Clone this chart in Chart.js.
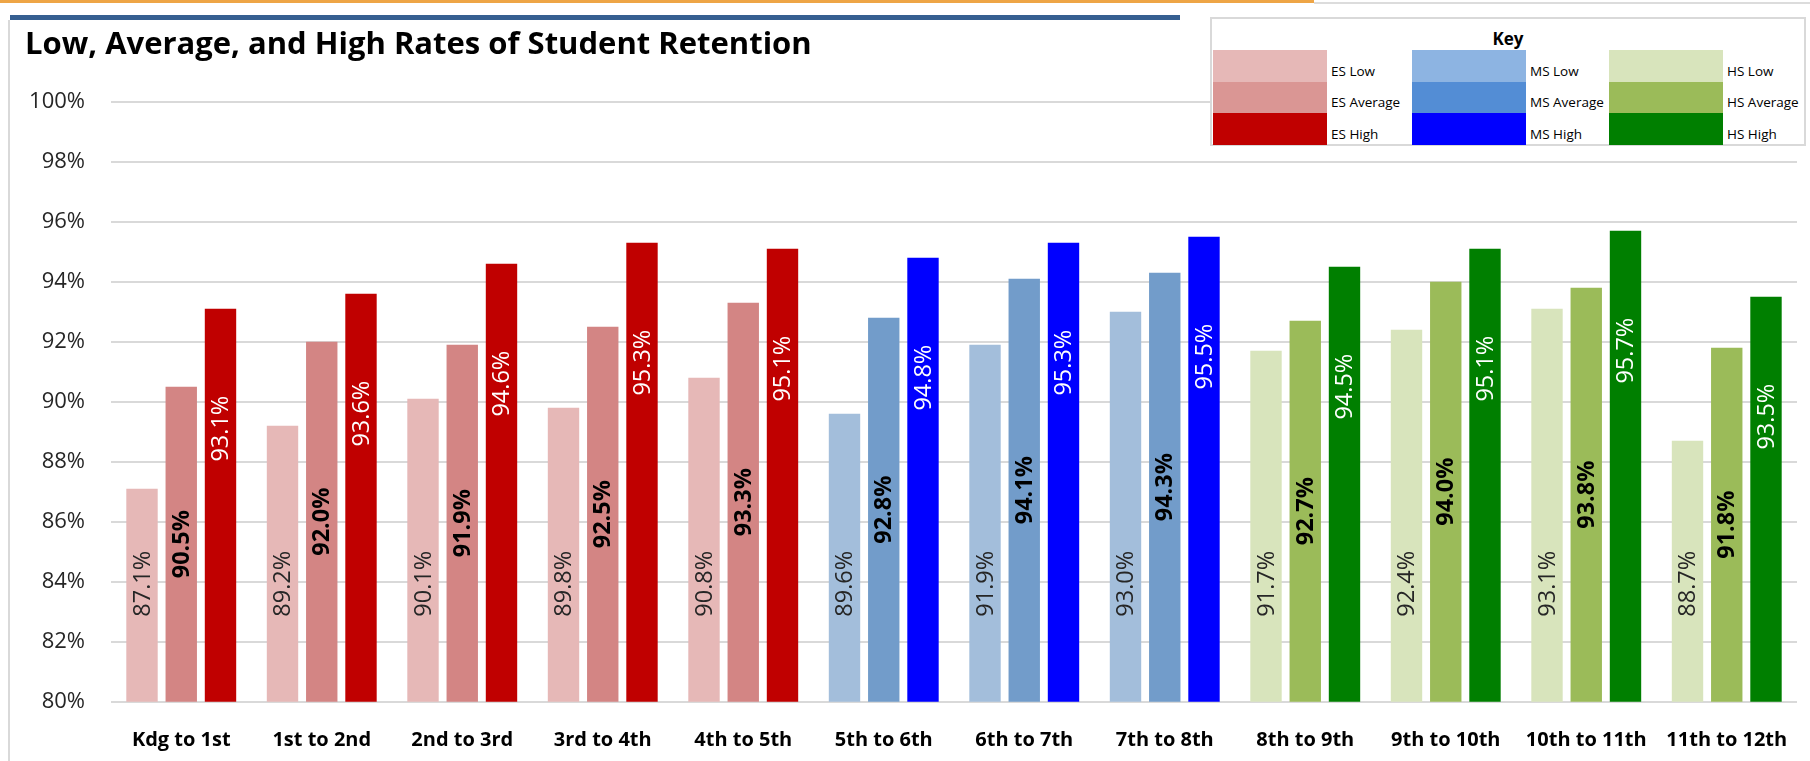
<!DOCTYPE html>
<html>
<head>
<meta charset="utf-8">
<title>Low, Average, and High Rates of Student Retention</title>
<script src="https://cdn.jsdelivr.net/npm/chart.js@4.4.1/dist/chart.umd.min.js"></script>
<style>
  body { margin: 0; background: #fff; }
  #quadro { position: relative; width: 1810px; height: 761px; overflow: hidden; font-family: 'Open Sans', sans-serif; }
  #grafico { position: absolute; left: 0; top: 0; }
  .faixa { position: absolute; }
  #chave { position: absolute; left: 1210px; top: 17px; width: 596px; height: 129px; box-sizing: border-box; border: 2px solid #d9d9d9; background: #fff; }
  #chaveTitulo { position: absolute; left: 1210px; top: 28px; width: 596px; text-align: center; font-weight: bold; font-size: 17px; line-height: 22px; color: #000; }
  .amostra { position: absolute; width: 114px; height: 32px; }
  .rotulo { position: absolute; font-size: 13.5px; line-height: 20px; color: #000; white-space: nowrap; }
</style>
</head>
<body>
<div id="quadro">
  <canvas id="grafico" width="1810" height="761"></canvas>
  <div class="faixa" style="left:0;top:0;width:1314px;height:3px;background:#eea546"></div>
  <div class="faixa" style="left:1314px;top:2px;width:496px;height:2px;background:#dcdcdc"></div>
  <div class="faixa" style="left:10px;top:15px;width:1170px;height:5px;background:#365f91"></div>
  <div class="faixa" style="left:8px;top:20px;width:2px;height:741px;background:#d9d9d9"></div>
  <div id="chave"></div>
  <div id="chaveTitulo">Key</div>
</div>
<script>
// Grade transitions on the x axis
const transitions = ['Kdg to 1st', '1st to 2nd', '2nd to 3rd', '3rd to 4th', '4th to 5th',
  '5th to 6th', '6th to 7th', '7th to 8th', '8th to 9th', '9th to 10th', '10th to 11th', '11th to 12th'];
const schoolLevel = ['ES', 'ES', 'ES', 'ES', 'ES', 'MS', 'MS', 'MS', 'HS', 'HS', 'HS', 'HS'];

// Retention rates (%)
const lowRates = [87.1, 89.2, 90.1, 89.8, 90.8, 89.6, 91.9, 93.0, 91.7, 92.4, 93.1, 88.7];
const averageRates = [90.5, 92.0, 91.9, 92.5, 93.3, 92.8, 94.1, 94.3, 92.7, 94.0, 93.8, 91.8];
const highRates = [93.1, 93.6, 94.6, 95.3, 95.1, 94.8, 95.3, 95.5, 94.5, 95.1, 95.7, 93.5];

// Key entries
const keyLevels = ['ES', 'MS', 'HS'];
const keyKinds = ['Low', 'Average', 'High'];

// Bar colours per level
const barColors = {
  ES: { Low: '#e6b8b7', Average: '#d38584', High: '#c00000' },
  MS: { Low: '#a3bedb', Average: '#729cca', High: '#0000ff' },
  HS: { Low: '#d8e4bc', Average: '#9bbb59', High: '#007f00' }
};
// Key swatches are a bit different from the bars
const keyColors = {
  ES: { Low: '#e6b8b7', Average: '#da9694', High: '#c00000' },
  MS: { Low: '#8db4e2', Average: '#538dd5', High: '#0000ff' },
  HS: { Low: '#d8e4bc', Average: '#9bbb59', High: '#007f00' }
};

const fonte = "'Open Sans', sans-serif";

/**
 * Builds the key box (3 columns x 3 rows).
 */
function montarChave() {
  const quadro = document.getElementById('quadro');
  const colunas = [1213, 1412, 1609];
  const linhas = [50, 81.5, 113];
  keyLevels.forEach((nivel, c) => {
    keyKinds.forEach((tipo, r) => {
      const amostra = document.createElement('div');
      amostra.className = 'amostra';
      amostra.style.left = colunas[c] + 'px';
      amostra.style.top = linhas[r] + 'px';
      amostra.style.background = keyColors[nivel][tipo];
      quadro.appendChild(amostra);

      const rotulo = document.createElement('div');
      rotulo.className = 'rotulo';
      rotulo.style.left = (colunas[c] + 118) + 'px';
      rotulo.style.top = (linhas[r] + 10.5) + 'px';
      rotulo.textContent = `${nivel} ${tipo}`;
      quadro.appendChild(rotulo);
    });
  });
}

/**
 * Rotated value labels inside the bars.
 */
const rotuloBarras = {
  id: 'rotuloBarras',
  afterDatasetsDraw(chart) {
    const { ctx, chartArea } = chart;
    chart.data.datasets.forEach((ds, i) => {
      const meta = chart.getDatasetMeta(i);
      meta.data.forEach((bar, j) => {
        const texto = ds.data[j].toFixed(1) + '%';
        // base of the bar sits at value 0, so clamp to the axis
        const base = Math.min(bar.base, chartArea.bottom);
        ctx.save();
        ctx.font = `${ds.labelWeight} 23.5px ${fonte}`;
        ctx.fillStyle = ds.labelColor;
        ctx.textBaseline = 'middle';
        if (ds.labelPos === 'base') {
          ctx.translate(bar.x, base);
          ctx.rotate(-Math.PI / 2);
          ctx.textAlign = 'left';
          ctx.fillText(texto, 85, 1);
        } else if (ds.labelPos === 'end') {
          ctx.translate(bar.x, bar.y);
          ctx.rotate(-Math.PI / 2);
          ctx.textAlign = 'right';
          ctx.fillText(texto, -87, 1);
        } else {
          ctx.translate(bar.x, (bar.y + base) / 2);
          ctx.rotate(-Math.PI / 2);
          ctx.textAlign = 'center';
          ctx.fillText(texto, 0, 1);
        }
        ctx.restore();
      });
    });
  }
};

function criarGrafico() {
  const ctx = document.getElementById('grafico').getContext('2d');
  const coresDe = tipo => schoolLevel.map(n => barColors[n][tipo]);

  new Chart(ctx, {
    type: 'bar',
    data: {
      labels: transitions,
      datasets: [
        { label: 'Low', data: lowRates, backgroundColor: coresDe('Low'),
          labelPos: 'base', labelColor: '#262626', labelWeight: 'normal' },
        { label: 'Average', data: averageRates, backgroundColor: coresDe('Average'),
          labelPos: 'center', labelColor: '#000', labelWeight: 'bold' },
        { label: 'High', data: highRates, backgroundColor: coresDe('High'),
          labelPos: 'end', labelColor: '#fff', labelWeight: 'normal' }
      ]
    },
    options: {
      responsive: false,
      animation: false,
      categoryPercentage: 0.838,
      barPercentage: 0.8,
      layout: { padding: { left: 25, right: 13, top: 0, bottom: 0 } },
      plugins: {
        legend: { display: false },
        tooltip: { enabled: false },
        title: {
          display: true,
          text: 'Low, Average, and High Rates of Student Retention',
          align: 'start',
          color: '#000',
          font: { family: fonte, size: 31, weight: 'bold', lineHeight: 1.2 },
          padding: { top: 27, bottom: 37.5 }
        }
      },
      scales: {
        x: {
          grid: { display: false },
          border: { display: false },
          ticks: {
            color: '#000',
            font: { family: fonte, size: 20, weight: 'bold' },
            padding: 19,
            maxRotation: 0,
            autoSkip: false
          },
          afterFit(scale) { scale.height = 59.3; }
        },
        y: {
          min: 80,
          max: 100,
          grid: { color: '#d9d9d9', lineWidth: 2, drawTicks: false },
          border: { display: false },
          ticks: {
            stepSize: 2,
            color: '#262626',
            padding: 26,
            font: { family: fonte, size: 22 },
            callback: v => v + '%'
          },
          afterFit(scale) { scale.width = 86; }
        }
      }
    },
    plugins: [rotuloBarras]
  });
}

montarChave();
criarGrafico();
</script>
</body>
</html>
